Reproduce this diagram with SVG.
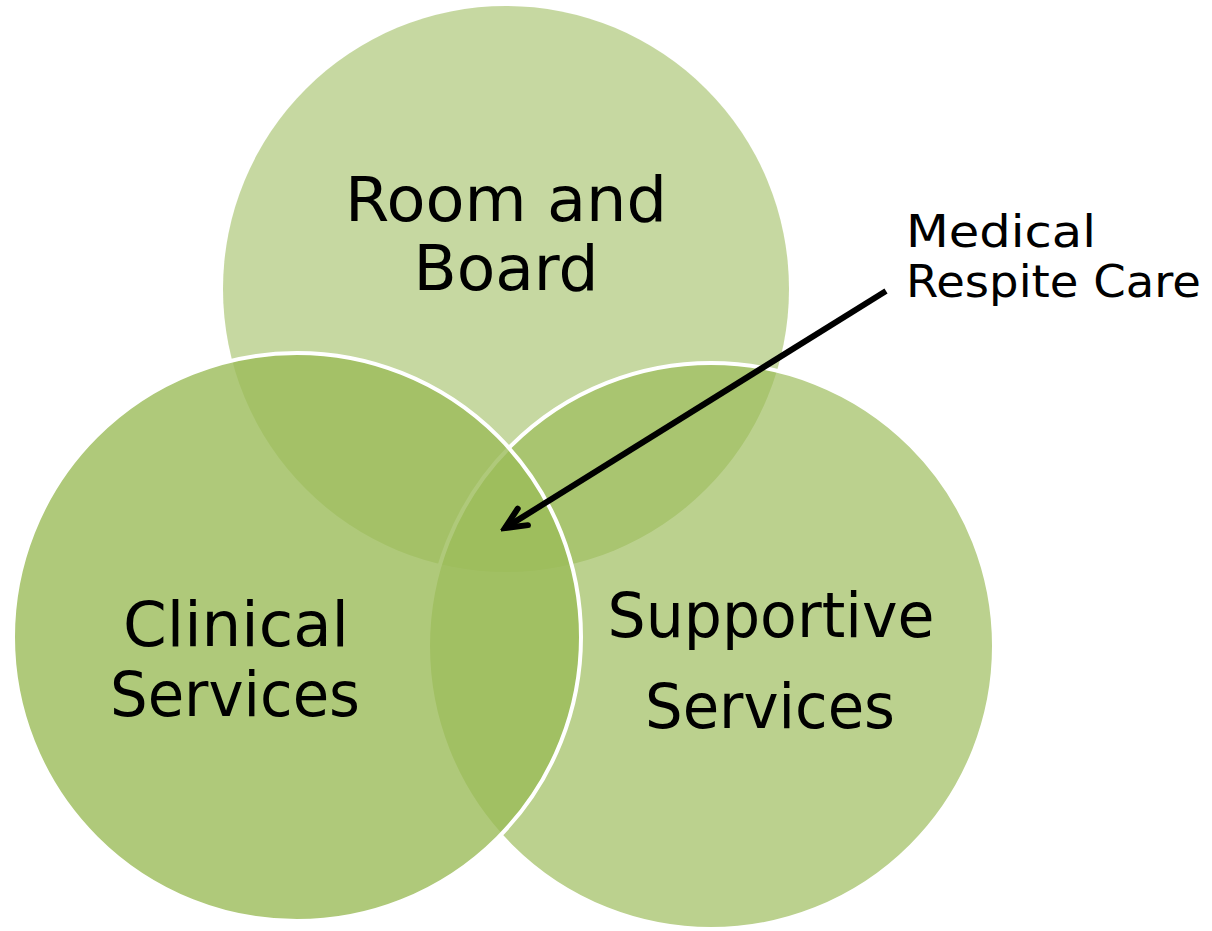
<svg xmlns="http://www.w3.org/2000/svg" width="1212" height="931" viewBox="0 0 1212 931">
<style>
.c{fill:#9bbb59}
.lbl{font-family:"DejaVu Sans","Liberation Sans",sans-serif;font-size:63px;fill:#000;text-anchor:middle}
.note{font-family:"DejaVu Sans","Liberation Sans",sans-serif;font-size:44px;fill:#000}
</style>
<defs>
<marker id="ah" markerUnits="userSpaceOnUse" viewBox="0 0 32 32" refX="27" refY="16" markerWidth="32" markerHeight="32" orient="auto">
<polyline points="6,6.3 27,16 6,25.7" fill="none" stroke="#000" stroke-width="6" stroke-linecap="round" stroke-linejoin="miter"/>
</marker>
</defs>
<rect width="1212" height="931" fill="#fff"/>
<g id="room-and-board">
<circle class="c" cx="506" cy="289" r="283" fill-opacity="0.57"/>
<text class="lbl" x="506" y="221" textLength="322" lengthAdjust="spacingAndGlyphs">Room and</text>
<text class="lbl" x="506" y="290">Board</text>
</g>
<g id="supportive-services">
<circle class="c" cx="711" cy="646" r="283" fill-opacity="0.68" stroke="#fff" stroke-width="4"/>
</g>
<g id="clinical-services">
<circle class="c" cx="297" cy="637" r="284" fill-opacity="0.8" stroke="#fff" stroke-width="4"/>
<text class="lbl" x="236" y="646" textLength="226" lengthAdjust="spacingAndGlyphs">Clinical</text>
<text class="lbl" x="235" y="716" textLength="250" lengthAdjust="spacingAndGlyphs">Services</text>
</g>
<g id="supportive-services-label">
<text class="lbl" x="771" y="637" textLength="327" lengthAdjust="spacingAndGlyphs">Supportive</text>
<text class="lbl" x="770" y="728" textLength="250" lengthAdjust="spacingAndGlyphs">Services</text>
</g>
<g id="medical-respite-care">
<text class="note" x="906" y="247" textLength="190" lengthAdjust="spacingAndGlyphs">Medical</text>
<text class="note" x="906" y="297" textLength="295" lengthAdjust="spacingAndGlyphs">Respite Care</text>
</g>
<g id="connectors">
<line x1="886" y1="291" x2="505" y2="528" stroke="#000" stroke-width="6" marker-end="url(#ah)"/>
</g>
</svg>
